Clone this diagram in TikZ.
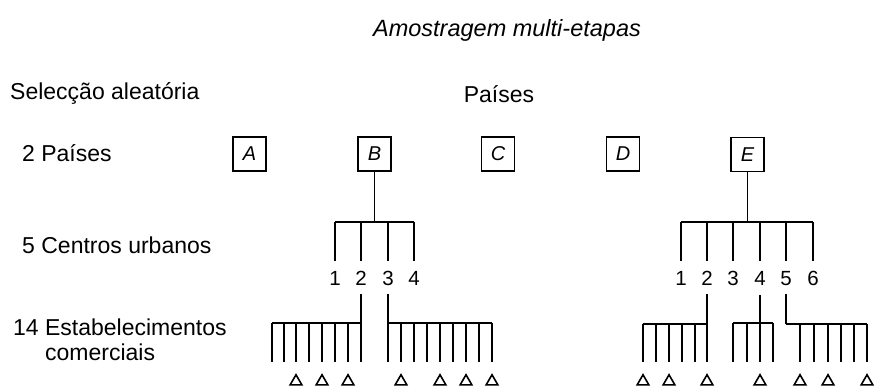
\documentclass[tikz,border=0pt]{standalone}
\usepackage{fontspec}
\setmainfont{Liberation Sans}
\usetikzlibrary{shapes.geometric}
\begin{document}
\begin{tikzpicture}[x=1pt,y=-1pt,
  lbl/.style={inner sep=0pt, font=\fontsize{23}{27}\selectfont},
  ttl/.style={inner sep=0pt, font=\fontsize{23.5}{27}\selectfont\itshape},
  box/.style={draw, line width=1.2pt, minimum width=33pt, minimum height=34pt, inner sep=0pt, font=\fontsize{20}{23}\selectfont\itshape},
  num/.style={inner sep=0pt, font=\fontsize{20.5}{23}\selectfont},
  tri/.style={draw, line width=1.6pt, regular polygon, regular polygon sides=3, minimum size=13.5pt, inner sep=0pt},
  ln/.style={line width=1.4pt}]
\useasboundingbox (0,0) rectangle (874,387);

% titles and row labels
\node[ttl] (title) at (507,30) {Amostragem multi-etapas};
\node[lbl, anchor=base west] (sel) at (10,100) {Selecção aleatória};
\node[lbl, anchor=base] (paises) at (499,103) {Países};
\node[lbl, anchor=base west] (r1) at (22,162) {2 Países};
\node[lbl, anchor=base west] (r2) at (22,253) {5 Centros urbanos};
\node[lbl, anchor=base west] (r3) at (13,335) {14 Estabelecimentos};
\node[lbl, anchor=base west] (r3b) at (45,360) {comerciais};

% countries
\node[box] (A) at (249.5,154) {A};
\node[box] (B) at (374.5,154) {B};
\node[box] (C) at (498,154) {C};
\node[box] (D) at (623,154) {D};
\node[box] (E) at (747.5,154.5) {E};

% urban centres of B
\coordinate (Bj) at (374.5,222);
\draw[ln] (B.south) -- (Bj);
\foreach \x [count=\i] in {335,361,388,414} {
  \coordinate (Bt\i) at (\x,222);
  \coordinate (Bb\i) at (\x,261);
  \node[num, anchor=base] (Bn\i) at (\x,285) {\i};
  \draw[ln] (Bt\i) -- (Bb\i);
}
\draw[ln] (Bt1) -- (Bt4);

% urban centres of E
\coordinate (Ej) at (747.5,222);
\draw[ln] (E.south) -- (Ej);
\foreach \x [count=\i] in {681,707,733,760,786,813} {
  \coordinate (Et\i) at (\x,222);
  \coordinate (Eb\i) at (\x,261);
  \node[num, anchor=base] (En\i) at (\x,285) {\i};
  \draw[ln] (Et\i) -- (Eb\i);
}
\draw[ln] (Et1) -- (Et6);

% shops: B, centre 2
\coordinate (B2s) at (361,294);
\coordinate (B2e) at (361,362);
\draw[ln] (B2s) -- (B2e);
\foreach \x [count=\i] in {272,284,296,309,322,335,348,361} {
  \coordinate (B2t\i) at (\x,323);
  \coordinate (B2b\i) at (\x,362);
  \draw[ln] (B2t\i) -- (B2b\i);
}
\draw[ln] (B2t1) -- (B2t8);
\foreach \x [count=\i] in {296,322,348} \node[tri] (B2d\i) at (\x,381.5) {};

% shops: B, centre 3
\coordinate (B3s) at (388,294);
\coordinate (B3e) at (388,362);
\draw[ln] (B3s) -- (B3e);
\foreach \x [count=\i] in {388,401,414,427,440,453,466,479,492} {
  \coordinate (B3t\i) at (\x,323);
  \coordinate (B3b\i) at (\x,362);
  \draw[ln] (B3t\i) -- (B3b\i);
}
\draw[ln] (B3t1) -- (B3t9);
\foreach \x [count=\i] in {401,440,466,492} \node[tri] (B3d\i) at (\x,381.5) {};

% shops: E, centre 2
\coordinate (E2s) at (707,294);
\coordinate (E2e) at (707,362);
\draw[ln] (E2s) -- (E2e);
\foreach \x [count=\i] in {643,656,669,682,695,707} {
  \coordinate (E2t\i) at (\x,324);
  \coordinate (E2b\i) at (\x,362);
  \draw[ln] (E2t\i) -- (E2b\i);
}
\draw[ln] (E2t1) -- (E2t6);
\foreach \x [count=\i] in {643,669,707} \node[tri] (E2d\i) at (\x,381.5) {};

% shops: E, centre 4
\coordinate (E4s) at (760,295);
\coordinate (E4e) at (760,362);
\draw[ln] (E4s) -- (E4e);
\foreach \x [count=\i] in {733,747,760,773} {
  \coordinate (E4t\i) at (\x,323);
  \coordinate (E4b\i) at (\x,362);
  \draw[ln] (E4t\i) -- (E4b\i);
}
\draw[ln] (E4t1) -- (E4t4);
\node[tri] (E4d1) at (760,381.5) {};

% shops: E, centre 5
\coordinate (E5s) at (786,294);
\coordinate (E5c) at (786,324);
\draw[ln] (E5s) -- (E5c);
\foreach \x [count=\i] in {800,814,828,841,854,867} {
  \coordinate (E5t\i) at (\x,324);
  \coordinate (E5b\i) at (\x,362);
  \draw[ln] (E5t\i) -- (E5b\i);
}
\draw[ln] (E5c) -- (E5t6);
\foreach \x [count=\i] in {800,828,867} \node[tri] (E5d\i) at (\x,381.5) {};
\end{tikzpicture}
\end{document}
